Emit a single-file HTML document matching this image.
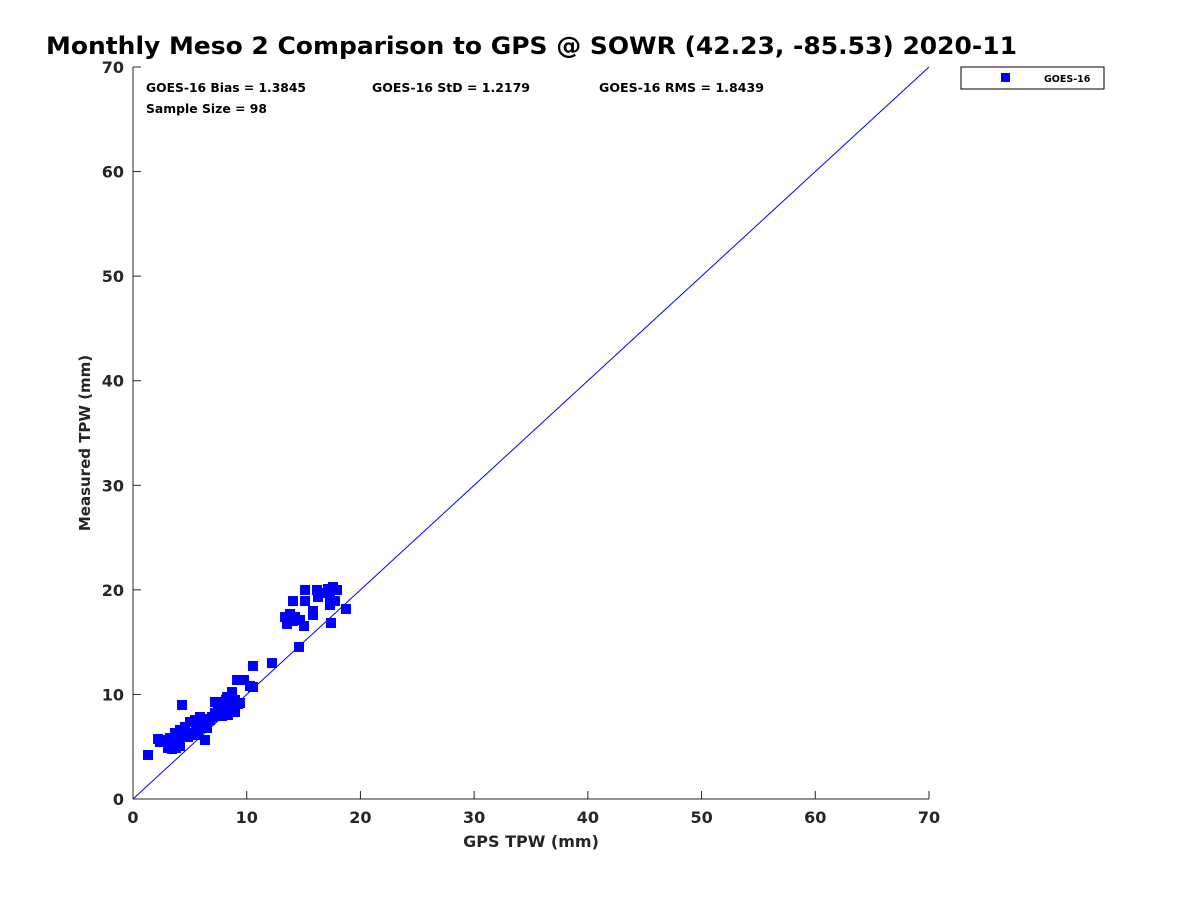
<!DOCTYPE html>
<html><head><meta charset="utf-8"><style>
body{margin:0;background:#fff;font-family:"DejaVu Sans",sans-serif}
svg text{font-family:"DejaVu Sans",sans-serif}
</style></head><body>
<svg id="chart" width="1200" height="900" xmlns="http://www.w3.org/2000/svg">
<rect width="1200" height="900" fill="#fff"/>
<text x="46" y="54" font-size="24" font-weight="bold" fill="#000" textLength="971" lengthAdjust="spacingAndGlyphs">Monthly Meso 2 Comparison to GPS @ SOWR (42.23, -85.53) 2020-11</text>
<g id="axes"></g>
<g id="points"></g>
<text x="146" y="92" font-size="12" font-weight="bold" textLength="160" lengthAdjust="spacingAndGlyphs">GOES-16 Bias = 1.3845</text>
<text x="372" y="92" font-size="12" font-weight="bold" textLength="158" lengthAdjust="spacingAndGlyphs">GOES-16 StD = 1.2179</text>
<text x="599" y="92" font-size="12" font-weight="bold" textLength="165" lengthAdjust="spacingAndGlyphs">GOES-16 RMS = 1.8439</text>
<text x="146" y="113" font-size="12" font-weight="bold" textLength="121" lengthAdjust="spacingAndGlyphs">Sample Size = 98</text>
<g>
<rect x="961" y="67" width="143" height="22" fill="#fff" stroke="#000" stroke-width="1"/>
<rect x="1001" y="73" width="9" height="9" fill="#0000ff"/>
<text x="1044" y="82" font-size="9.5" font-weight="bold">GOES-16</text>
</g>
<text x="531" y="847" font-size="16" font-weight="bold" fill="#262626" text-anchor="middle">GPS TPW (mm)</text>
<text transform="translate(90,443) rotate(-90)" font-size="15" font-weight="bold" fill="#262626" text-anchor="middle">Measured TPW (mm)</text>
</svg>
<script>
const xTicks=[0,10,20,30,40,50,60,70];
const yTicks=[0,10,20,30,40,50,60,70];
const gpsX=[15.13,16.18,17.59,17.15,17.94,16.97,17.32,14.07,15.13,17.76,17.32,15.83,18.73,13.37,13.81,14.25,14.69,15.04,13.54,14.07,15.83,17.41,14.6,17.15,16.27,
12.22,10.55,9.15,9.76,10.29,10.55,9.23,8.27,7.83,8.53,8.97,8.35,9.41,7.21,7.48,8.09,7.83,7.65,4.31,6.77,6.51,5.72,6.16,5.89,5.45,5.01,4.57,4.13,3.69,3.25,2.81,2.37,2.2,4.57,5.01,5.45,5.89,6.33,3.43,3.78,3.08,4.13,1.32,6.77,7.21,8.35,8.97,8.71,7.65,6.95,4.84,5.54,6.42,2.9,3.96,5.19,8.18,8.71,7.48];
const measY=[19.99,19.99,20.27,19.99,19.99,19.7,19.22,18.93,18.93,18.93,18.55,17.98,18.17,17.4,17.69,17.4,17.12,16.54,16.74,17.02,17.6,16.83,14.54,20.08,19.32,
13.0,12.72,11.38,11.38,10.81,10.71,9.08,9.75,9.28,8.51,9.47,8.89,9.18,9.28,8.51,8.32,7.94,8.99,8.99,7.55,6.79,6.6,7.08,7.84,7.55,7.36,6.89,6.6,6.31,5.83,5.64,5.45,5.74,6.12,6.31,6.12,6.89,5.64,4.78,4.88,4.88,5.07,4.21,7.65,8.22,8.03,8.32,10.23,8.61,7.84,5.93,6.89,7.27,5.55,5.74,7.36,9.47,9.66,8.03];
const X0=133,X1=929,Y0=799,Y1=67,MAX=70;
const sx=v=>X0+(v/MAX)*(X1-X0), sy=v=>Y0-(v/MAX)*(Y0-Y1);
const NS="http://www.w3.org/2000/svg";
const axes=document.getElementById('axes'), pts=document.getElementById('points');
function mk(tag,attrs,parent){const e=document.createElementNS(NS,tag);for(const k in attrs)e.setAttribute(k,attrs[k]);parent.appendChild(e);return e;}
let l=mk('line',{x1:X0,y1:Y0,x2:X1,y2:Y0,stroke:'#262626'},axes);


l=mk('line',{x1:X0,y1:Y0,x2:X0,y2:Y1,stroke:'#262626'},axes);


xTicks.forEach(t=>{
 const tk=mk('line',{x1:sx(t),y1:Y0,x2:sx(t),y2:Y0-8,stroke:'#262626'},axes);
 
 
 const tx=mk('text',{x:sx(t),y:Y0+24,'font-size':16,'font-weight':'bold',fill:'#262626','text-anchor':'middle'},axes);
 tx.textContent=t;
 
 
});
yTicks.forEach(t=>{
 const tk=mk('line',{x1:X0,y1:sy(t),x2:X0+8,y2:sy(t),stroke:'#262626'},axes);
 
 
 const tx=mk('text',{x:X0-9,y:sy(t)+6,'font-size':16,'font-weight':'bold',fill:'#262626','text-anchor':'end'},axes);
 tx.textContent=t;
 
 
});
const ref=mk('line',{x1:sx(0),y1:sy(0),x2:sx(70),y2:sy(70),stroke:'#0000ff','stroke-width':1},axes);


gpsX.forEach((x,i)=>{
 const r=mk('rect',{x:sx(x)-5,y:sy(measY[i])-5,width:10,height:10,fill:'#0000ff'},pts);
 
 
});
</script>
</body></html>
